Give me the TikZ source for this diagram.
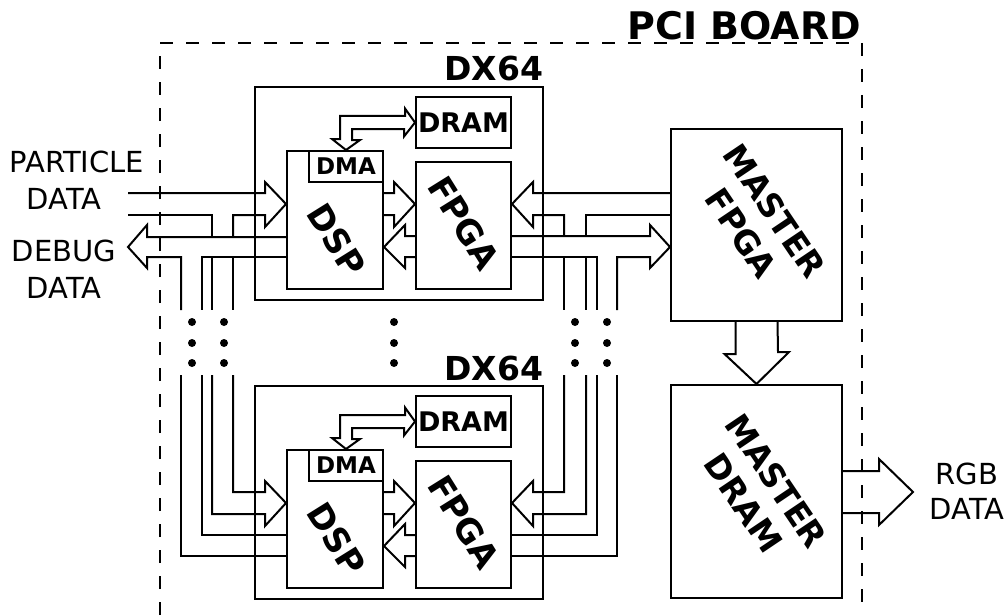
\documentclass[tikz,border=0pt]{standalone}
\usepackage{fontspec}
\setmainfont{DejaVu Sans}
\usetikzlibrary{positioning,calc}

\begin{document}
\begin{tikzpicture}[x=1pt,y=-1pt,line width=2pt,
 box/.style={draw,rectangle,inner sep=0pt},
 tag/.style={inner sep=0pt,font=\fontsize{29}{35}\selectfont},
 head/.style={inner sep=0pt,font=\bfseries\fontsize{33}{38}\selectfont},
 chip/.style={inner sep=0pt,font=\bfseries\fontsize{34}{40}\selectfont,rotate=-58},
 master/.style={inner sep=0pt,align=center,font=\bfseries\fontsize{33}{40}\selectfont,rotate=-56}]
\useasboundingbox (0,0) rectangle (1008,615);
\draw[dash pattern=on 13pt off 13pt] (160,615) |- (862,43) -- (862,615);
\node[head,anchor=base east,font=\bfseries\fontsize{38}{44}\selectfont] (pci) at (862,40) {PCI BOARD};
% the two DX64 boards
\foreach \b/\dy in {1/0,2/299}{
\begin{scope}[shift={(0,\dy)}]
\node[box,minimum width=288,minimum height=213] (dx\b) at (399,193.5) {};
\node[head,anchor=base east] (dxt\b) at ([yshift=5pt]dx\b.north east) {DX64};
\node[box,minimum width=96,minimum height=138] (dsp\b) at (335,220) {};
\node[box,minimum width=74,minimum height=31,font=\bfseries\fontsize{23}{27}\selectfont] (dma\b) at (346,166.5) {DMA};
\node[box,minimum width=95,minimum height=51,font=\bfseries\fontsize{27}{32}\selectfont] (dram\b) at (463.5,122.5) {DRAM};
\node[box,minimum width=95,minimum height=127] (fpga\b) at (463.5,225.5) {};
\node[chip] (dspt\b) at (337,240) {DSP};
\node[chip] (fpgat\b) at (464,223) {FPGA};
\draw (dma\b.north) -- ++(-14,-11) -- ++(8,0) |- (405,116) -- ++(0,-7.5) -- (dram\b.west) -- ++(-11,14) -- ++(0,-7.5) -| (352,140) -- ++(8,0) -- cycle;
\draw (dsp\b.east|-0,193) -| (394,182) -- (fpga\b.west|-0,204) -- (394,227) |- (dsp\b.east|-0,215);
\draw (fpga\b.west|-0,236) -| (405,225) -- (dsp\b.east|-0,247) -- (405,268) |- (fpga\b.west|-0,257);
\end{scope}}
\node[box,minimum width=171,minimum height=192] (mfpga) at (756.5,225) {};
\node[box,minimum width=171,minimum height=213] (mdram) at (756.5,491.5) {};
\node[master] (mfpgat) at (758,222) {MASTER\\FPGA};
\node[master] (mdramt) at (760,492) {MASTER\\DRAM};
\draw ([xshift=-21pt]mfpga.south) -- ++(0,32) -- ++(-11,0) -- (mdram.north) -- ++(32.5,-32) -- ++(-11,0) -- ([xshift=21pt]mfpga.south);
% outside labels
\node[tag,anchor=base] (pt1) at (77,172) {PARTICLE};
\node[tag,anchor=base] (pt2) at (64,209) {DATA};
\node[tag,anchor=base] (db1) at (64,261) {DEBUG};
\node[tag,anchor=base] (db2) at (64,298) {DATA};
\node[tag,align=center] (rgbt) at (967,491) {RGB\\DATA};
\coordinate (pin) at (128,204);
\coordinate (dbg) at (128,247);
\coordinate (rgb) at (913,492);
\draw (mdram.east|-0,471) -| (879,459) -- (rgb) -- (879,525) |- (mdram.east|-0,513);
% left buses
\draw (pin|-0,193) -| (265,182) -- (dsp1.west|-0,204) -- (265,227) |- (233,215) -- (233,237);
\draw (pin|-0,215) -| (212,237);
\draw (dsp1.west|-0,237) -| (147,225) -- (dbg) -- (147,268) |- (181,257) -- (181,310);
\draw (dsp1.west|-0,257) -| (202,310);
\foreach \x in {212,233} \draw (\x,257) -- (\x,310);
\draw (233,375) |- (265,492) -- (265,481) -- (dsp2.west|-0,503) -- (265,526) |- (212,514) -- (212,375);
\draw (202,375) |- (dsp2.west|-0,535);
\draw (181,375) |- (dsp2.west|-0,556);
% right buses
\draw (mfpga.west|-0,193) -| (533,182) -- (fpga1.east|-0,204) -- (533,227) |- (564,215) -- (564,236);
\draw (mfpga.west|-0,215) -| (586,236);
\draw (fpga1.east|-0,236) -| (650,225) -- (mfpga.west|-0,247) -- (650,268) |- (617,257) -- (617,310);
\draw (fpga1.east|-0,257) -| (597,310);
\foreach \x in {564,586} \draw (\x,257) -- (\x,310);
\draw (564,375) |- (533,492) -- (533,481) -- (fpga2.east|-0,503) -- (533,526) |- (586,514) -- (586,375);
\draw (597,375) |- (fpga2.east|-0,535);
\draw (617,375) |- (fpga2.east|-0,556);
% dots
\foreach \x in {192,224,394,575,607}{\foreach \y in {322,343,363}{\fill (\x,\y) circle (4pt);}}
\end{tikzpicture}
\end{document}
